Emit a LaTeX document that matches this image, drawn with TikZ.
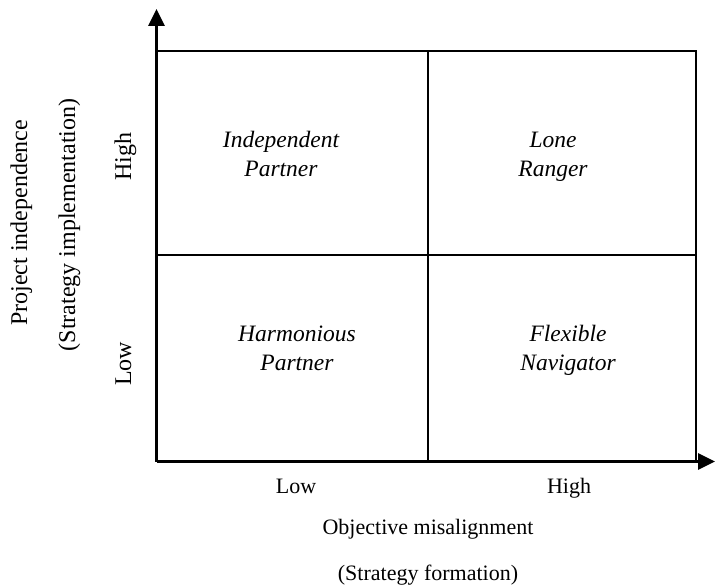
\documentclass[tikz,border=0pt]{standalone}
\usepackage{fontspec}
\setmainfont{Liberation Serif}
\usetikzlibrary{arrows.meta}
\begin{document}
\begin{tikzpicture}[x=1pt,y=1pt,
  lbl/.style={font=\fontsize{22}{28}\selectfont, inner sep=0pt, anchor=base},
  vlbl/.style={font=\fontsize{24}{28}\selectfont, inner sep=0pt, anchor=base, rotate=90},
  quad/.style={font=\fontsize{23.5}{29}\selectfont\itshape, align=center, inner sep=0pt, anchor=base},
  axis/.style={line width=3pt, -{Triangle[width=16pt,length=17pt]}},
  grid/.style={line width=1.4pt}]
\useasboundingbox (0,0) rectangle (715,587);
\coordinate (O) at (156.5,125.5);
\coordinate (ytip) at (156.5,578);
\coordinate (xtip) at (715,125.5);
\coordinate (tl) at (156.5,536);
\coordinate (tr) at (696,536);
\coordinate (br) at (696,125.5);
\coordinate (mt) at (428,536);
\coordinate (mb) at (428,125.5);
\coordinate (ml) at (156.5,332);
\coordinate (mr) at (696,332);
\draw[grid] (tl) -- (tr) -- (br);
\draw[grid] (mt) -- (mb);
\draw[grid] (ml) -- (mr);
\draw[axis] (O) -- (ytip);
\draw[axis] (O) -- (xtip);
\node[quad] (ip) at (281,410) {Independent\\Partner};
\node[quad] (lr) at (553,410) {Lone\\Ranger};
\node[quad] (hp) at (297,216) {Harmonious\\Partner};
\node[quad] (fn) at (568,216) {Flexible\\Navigator};
\node[lbl] (xlow) at (296,94) {Low};
\node[lbl] (xhigh) at (569,94) {High};
\node[lbl] (xt1) at (428,53) {Objective misalignment};
\node[lbl] (xt2) at (428,7) {(Strategy formation)};
\node[vlbl] (yt1) at (27,364) {Project independence};
\node[vlbl] (yt2) at (75,362) {(Strategy implementation)};
\node[vlbl] (yhigh) at (131,430) {High};
\node[vlbl] (ylow) at (131,223) {Low};
\end{tikzpicture}
\end{document}
